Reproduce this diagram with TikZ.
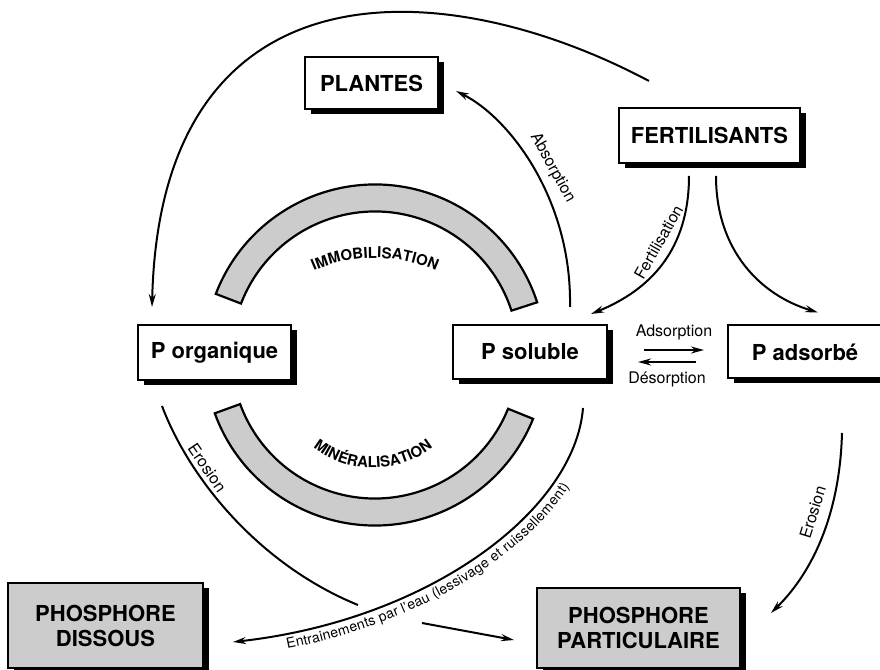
\documentclass[tikz,border=0pt]{standalone}
\usepackage{fontspec}
\setmainfont{TeX Gyre Heros}
\usetikzlibrary{arrows.meta,shadows,calc,decorations.text}

\begin{document}
\begin{tikzpicture}[x=0.5pt,y=0.5pt]
    % Styles
    \tikzset{
      box/.style={draw,line width=1pt,fill=white,inner sep=0pt,
        font=\fontsize{11}{12.5}\selectfont\bfseries,
        drop shadow={shadow xshift=3pt,shadow yshift=-2.5pt,opacity=1,fill=black}},
      sink/.style={box,fill=black!20,align=center},
      flow/.style={line width=1pt,-{Stealth[length=6.5pt,width=3.5pt]}},
      band/.style={draw,line width=1.1pt,fill=black!20},
      lbl/.style={font=\fontsize{8}{9}\selectfont,inner sep=2pt},
    }
    \useasboundingbox (0,0) rectangle (880,670);

    % --- Boxes ---
    \node[box,minimum width=66.5pt,minimum height=26pt] (plantes) at (371.5,587) {PLANTES};
    \node[box,minimum width=90.5pt,minimum height=27.5pt] (fert) at (709.5,534.5) {FERTILISANTS};
    \node[box,minimum width=76.5pt,minimum height=27.5pt] (porg) at (214.5,317.5) {P organique};
    \node[box,minimum width=77pt,minimum height=27pt] (psol) at (530,318) {P soluble};
    \node[box,minimum width=77pt,minimum height=26.5pt] (pads) at (805,318) {P adsorbé};
    \node[sink,minimum width=97.5pt,minimum height=42.5pt] (dissous) at (105.5,44.5) {PHOSPHORE\\DISSOUS};
    \node[sink,minimum width=101.5pt,minimum height=40pt] (partic) at (638.5,42) {PHOSPHORE\\PARTICULAIRE};

    % --- Immobilisation / mineralisation bands ---
    \coordinate (mid) at (375,315);
    \draw[band] ($(mid)+(159:85.25pt)$) arc[start angle=159,end angle=18,radius=85.25pt]
      -- ($(mid)+(18:71.75pt)$) arc[start angle=18,end angle=159,radius=71.75pt] -- cycle;
    \draw[band] ($(mid)+(200:85.25pt)$) arc[start angle=200,end angle=338,radius=85.25pt]
      -- ($(mid)+(338:71.75pt)$) arc[start angle=338,end angle=200,radius=71.75pt] -- cycle;

    \path[decorate,decoration={text along path,text align=center,
      text={|\fontsize{7.5}{8}\selectfont\bfseries|IMMOBILISATION}}]
      ($(375,262)+(170:75pt)$) arc[start angle=170,end angle=10,radius=75pt];
    \path[decorate,decoration={text along path,text align=center,
      text={|\fontsize{7.5}{8}\selectfont\bfseries|MINÉRALISATION}}]
      ($(373,298)+(200:48pt)$) arc[start angle=200,end angle=340,radius=48pt];

    % --- Free ends of the connectors ---
    \coordinate (arcStart) at ($(fert.north west)+(31,26)$);
    \coordinate (arcEnd) at ($(porg.north west)+(15,17)$);
    \coordinate (absStart) at ($(psol.north)+(40,17)$);
    \coordinate (absEnd) at ($(plantes.south east)+(17,19)$);
    \coordinate (fertA) at ($(fert.south)+(-20.5,-12)$);
    \coordinate (fertB) at ($(fert.south)+(6.5,-12)$);
    \coordinate (psolIn) at ($(psol.north east)+(-17,10)$);
    \coordinate (padsIn) at ($(pads.north)+(13,12)$);
    \coordinate (adsA) at ($(psol.east)+(36,2)$);
    \coordinate (adsB) at ($(pads.west)+(-23,2)$);
    \coordinate (desA) at ($(pads.west)+(-31,-10)$);
    \coordinate (desB) at ($(psol.east)+(30,-10)$);
    \coordinate (erosStart) at ($(porg.south)+(-52.5,-25)$);
    \coordinate (erosMid) at (358,65);
    \coordinate (erosB) at (422,47);
    \coordinate (erosEnd) at ($(partic.west)+(-22,-12)$);
    \coordinate (entStart) at ($(psol.south)+(53,-28)$);
    \coordinate (entEnd) at ($(dissous.east)+(29,-16.5)$);
    \coordinate (erosRStart) at ($(pads.south)+(37,-53.5)$);
    \coordinate (erosREnd) at ($(partic.east)+(30,15)$);

    % --- Fertilisants ---
    \draw[flow] (arcStart) .. controls (440,700) and (160,710) .. (arcEnd);
    \draw[flow] (fertA) .. controls (689,420) and (650,380) .. (psolIn)
      node[lbl,sloped,above=2pt,pos=0.4] (labFert) {Fertilisation};
    \draw[flow] (fertB) .. controls (716,420) and (760,375) .. (padsIn);

    % --- Absorption ---
    \draw[flow] (absStart) .. controls (572,470) and (510,552) .. (absEnd)
      node[lbl,sloped,above=2pt,pos=0.47] (labAbs) {Absorption};

    % --- Adsorption / desorption ---
    \draw[flow] (adsA) -- (adsB) node[lbl,midway,above=2.5pt] (labAds) {Adsorption};
    \draw[flow] (desA) -- (desB) node[lbl,midway,below=2.5pt] (labDes) {Désorption};

    % --- Losses ---
    \draw[line width=1pt] (erosStart) .. controls (190,190) and (260,105) .. (erosMid)
      node[lbl,sloped,above=0pt,pos=0.3] (labEros) {Erosion};
    \draw[flow] (erosB) -- (erosEnd);
    \draw[flow] (entStart) .. controls (575,160) and (430,50) .. (entEnd);
    \path[decorate,decoration={text along path,raise=-7.5pt,text align={left indent=26pt},
      text={|\fontsize{7}{8}\selectfont|Entrainements par l'eau (lessivage et ruissellement)}}]
      (entEnd) .. controls (430,50) and (575,160) .. (entStart);
    \draw[flow] (erosRStart) .. controls (840,160) and (815,100) .. (erosREnd)
      node[lbl,sloped,above=3pt,pos=0.4] (labErosR) {Erosion};

  \end{tikzpicture}
\end{document}
